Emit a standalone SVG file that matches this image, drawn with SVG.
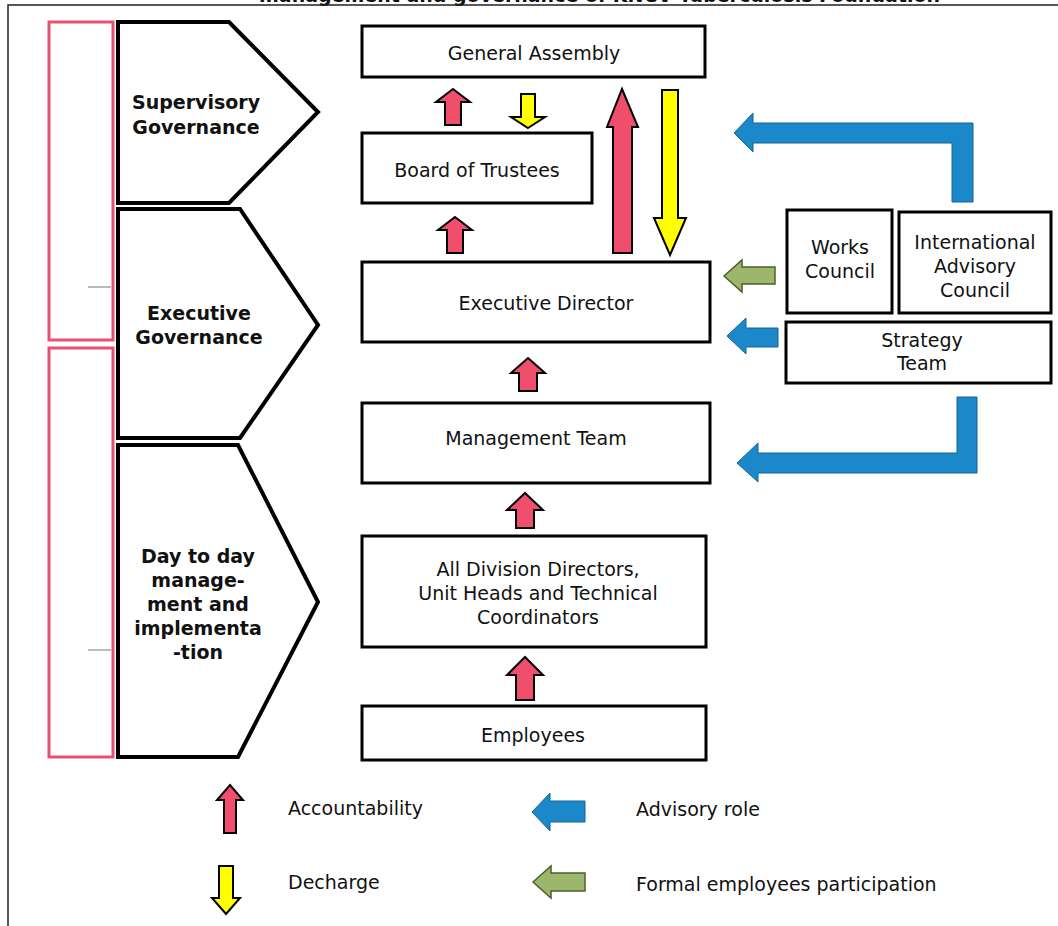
<svg xmlns="http://www.w3.org/2000/svg" width="1058" height="926" viewBox="0 0 1058 926">
<defs>
<style>
.box{fill:#fff;stroke:#000;stroke-width:3}
.pent{fill:#fff;stroke:#000;stroke-width:4;stroke-linejoin:miter}
.pink{fill:#fff;stroke:#e9506f;stroke-width:3}
.t{font-family:"DejaVu Sans",Verdana,sans-serif;font-size:19px;fill:#111;text-anchor:middle}
.b{font-family:"DejaVu Sans",Verdana,sans-serif;font-size:19px;font-weight:bold;fill:#111;text-anchor:middle}
.lg{font-family:"DejaVu Sans",Verdana,sans-serif;font-size:19px;fill:#111}
.red{fill:#ef4f6c;stroke:#000;stroke-width:2;stroke-linejoin:miter}
.yel{fill:#ffff00;stroke:#000;stroke-width:2;stroke-linejoin:miter}
.blue{fill:#1b88c9;stroke:#14659a;stroke-width:1}
.green{fill:#9cb66c;stroke:#4f5e2e;stroke-width:1.5}
.tick{stroke:#777;stroke-width:1}
</style>
</defs>
<rect width="1058" height="926" fill="#fff"/>
<text x="940" y="1.5" class="b" style="text-anchor:end">management and governance of KNCV Tuberculosis Foundation</text>
<path d="M8,926 V5 H1058" fill="none" stroke="#222" stroke-width="1.5"/>

<g id="phase-bars">
<rect class="pink" x="49" y="22" width="64" height="318"/>
<rect class="pink" x="49" y="348" width="64" height="409"/>
<line class="tick" x1="88" y1="287" x2="111" y2="287"/>
<line class="tick" x1="88" y1="650" x2="111" y2="650"/>
</g>

<g id="supervisory-governance">
<polygon class="pent" points="118,22 229,22 318,112 229,203 118,203"/>
<text class="b" x="196" y="109">Supervisory</text>
<text class="b" x="196" y="134">Governance</text>
</g>
<g id="executive-governance">
<polygon class="pent" points="118,209 240,209 318,325 240,438 118,438"/>
<text class="b" x="199" y="320">Executive</text>
<text class="b" x="199" y="344">Governance</text>
</g>
<g id="day-to-day">
<polygon class="pent" points="118,445 238,445 318,602 238,757 118,757"/>
<text class="b" x="198" y="563">Day to day</text>
<text class="b" x="198" y="587">manage-</text>
<text class="b" x="198" y="611">ment and</text>
<text class="b" x="198" y="635">implementa</text>
<text class="b" x="198" y="659">-tion</text>
</g>

<g id="general-assembly">
<rect class="box" x="362" y="26" width="343" height="51"/>
<text class="t" x="534" y="60">General Assembly</text>
</g>
<g id="board-of-trustees">
<rect class="box" x="362" y="133" width="230" height="70"/>
<text class="t" x="477" y="177">Board of Trustees</text>
</g>
<g id="executive-director">
<rect class="box" x="362" y="262" width="348" height="80"/>
<text class="t" x="546" y="310">Executive Director</text>
</g>
<g id="management-team">
<rect class="box" x="362" y="403" width="348" height="80"/>
<text class="t" x="536" y="445">Management Team</text>
</g>
<g id="division-directors">
<rect class="box" x="362" y="536" width="344" height="111"/>
<text class="t" x="538" y="576">All Division Directors,</text>
<text class="t" x="538" y="600">Unit Heads and Technical</text>
<text class="t" x="538" y="624">Coordinators</text>
</g>
<g id="employees">
<rect class="box" x="362" y="706" width="344" height="54"/>
<text class="t" x="533" y="742">Employees</text>
</g>
<g id="works-council">
<rect class="box" x="787" y="210" width="105" height="103"/>
<text class="t" x="840" y="254">Works</text>
<text class="t" x="840" y="278">Council</text>
</g>
<g id="international-advisory-council">
<rect class="box" x="899" y="212" width="152" height="101"/>
<text class="t" x="975" y="249">International</text>
<text class="t" x="975" y="273">Advisory</text>
<text class="t" x="975" y="297">Council</text>
</g>
<g id="strategy-team">
<rect class="box" x="786" y="322" width="265" height="61" stroke-width="4"/>
<text class="t" x="922" y="347">Strategy</text>
<text class="t" x="922" y="370">Team</text>
</g>

<g id="connectors">
<polygon class="red" points="453,89 470,102 461,102 461,125 445,125 445,102 436,102"/>
<polygon class="yel" points="528,128 545,117 535,117 535,94 521,94 521,117 511,117"/>
<polygon class="red" points="455,217 472,230 463,230 463,253 447,253 447,230 438,230"/>
<polygon class="red" points="528,358 545,373 537,373 537,391 519,391 519,373 511,373"/>
<polygon class="red" points="525,493 543,510 534,510 534,528 516,528 516,510 507,510"/>
<polygon class="red" points="525,657 543,675 534,675 534,700 516,700 516,675 507,675"/>
<polygon class="red" points="622,89 638,127 632,127 632,253 613,253 613,127 607,127"/>
<polygon class="yel" points="670,255 686,218 678,218 678,90 662,90 662,218 654,218"/>
<polygon class="blue" points="734,133 753,113 753,123 973,123 973,202 952,202 952,143 753,143 753,152"/>
<polygon class="blue" points="737,463 758,443 758,453 957,453 957,397 977,397 977,473 758,473 758,482"/>
<polygon class="green" points="724,276 742,260 742,267 775,267 775,284 742,284 742,292"/>
<polygon class="blue" points="727,336 746,318 746,328 778,328 778,347 746,347 746,354"/>
</g>

<g id="legend">
<polygon class="red" points="230,785 243,800 236,800 236,833 224,833 224,800 217,800"/>
<text class="lg" x="288" y="815">Accountability</text>
<polygon class="yel" points="226,914 240,898 233,898 233,866 219,866 219,898 212,898"/>
<text class="lg" x="288" y="889">Decharge</text>
<polygon class="blue" points="532,812 550,793 550,801 585,801 585,822 550,822 550,831"/>
<text class="lg" x="636" y="816">Advisory role</text>
<polygon class="green" points="533,882 551,866 551,873 585,873 585,891 551,891 551,898"/>
<text class="lg" x="636" y="891">Formal employees participation</text>
</g>
</svg>
